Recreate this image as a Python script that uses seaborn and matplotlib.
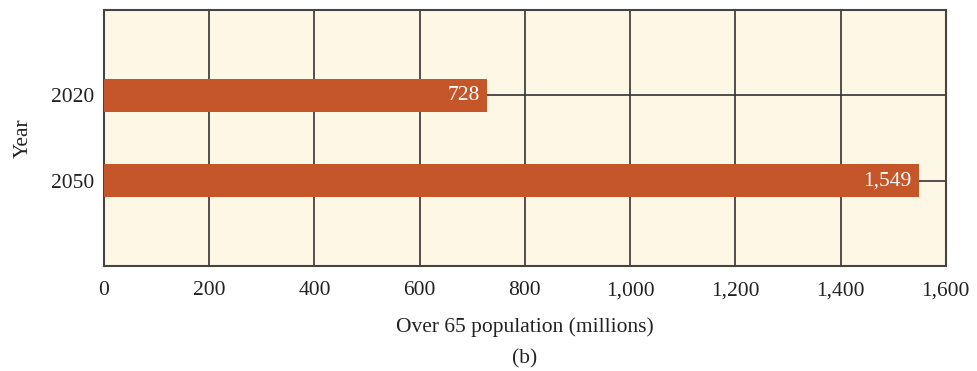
import seaborn as sns
import matplotlib.pyplot as plt
import pandas as pd

# over 65 population, horizontal bars
years = ["2020", "2050"]
population = [728, 1549]
value_labels = ["728", "1,549"]
x_ticks = [0, 200, 400, 600, 800, 1000, 1200, 1400, 1600]
x_tick_labels = ["0", "200", "400", "600", "800", "1,000", "1,200", "1,400", "1,600"]

df = pd.DataFrame({"Year": years, "Population": population})

sns.set_style("white")
plt.rcParams["font.family"] = ["Liberation Serif", "DejaVu Serif"]

fig, ax = plt.subplots(figsize=(9.77, 3.71), dpi=100)
fig.subplots_adjust(left=0.1065, right=0.968, top=0.973, bottom=0.283)

sns.barplot(data=df, x="Population", y="Year", orient="h", color="#C4562A",
            saturation=1, width=0.39, linewidth=0, ax=ax, zorder=3)

ax.set_facecolor("#FDF7E5")
ax.set_xlim(0, 1600)
ax.set_ylim(2, -1)
ax.set_xticks(x_ticks)
ax.set_xticklabels(x_tick_labels)
ax.tick_params(length=0, labelsize=15.5, colors="#222222", pad=11)
ax.tick_params(axis="y", pad=7)
ax.grid(True, axis="both", color="#333333", linewidth=1.2, zorder=0)
ax.set_axisbelow(True)
for s in ax.spines.values():
    s.set_color("#444444")
    s.set_linewidth(1.5)

for i, (v, lab) in enumerate(zip(population, value_labels)):
    ax.text(v - 14, i, lab, ha="right", va="center", color="white", fontsize=15.5, zorder=4)

ax.set_xlabel("Over 65 population (millions)", fontsize=15.5, color="#222222", labelpad=12)
ax.set_ylabel("Year", fontsize=15.5, color="#222222", labelpad=13)
fig.text(0.537, 0.02, "(b)", ha="center", fontsize=15.5, color="#222222")

plt.savefig("out.png", dpi=100)
